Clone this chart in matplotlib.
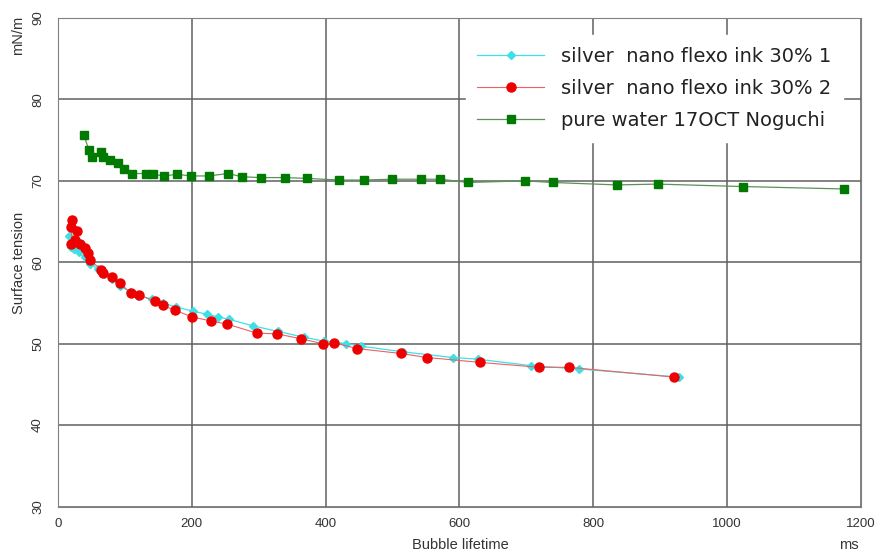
import matplotlib
matplotlib.use('Agg')
import matplotlib.pyplot as plt

# silver nano flexo ink 30% 1 (cyan)
ink1_t = [17, 19, 24, 31, 40, 48, 60, 69, 81, 93, 107, 120, 140, 157, 176, 202, 223, 239, 255,
          291, 329, 367, 398, 431, 453, 515, 590, 627, 707, 778, 928]
ink1_st = [63.2, 61.9, 61.6, 61.2, 60.6, 59.8, 59.2, 58.6, 58.0, 57.1, 56.4, 55.9, 55.5, 55.0, 54.5,
           54.0, 53.6, 53.3, 53.0, 52.2, 51.5, 50.8, 50.3, 50.0, 49.7, 49.0, 48.3, 48.1, 47.3, 46.9, 45.9]

# silver nano flexo ink 30% 2 (red)
ink2_t = [20, 21, 19, 29, 26, 33, 40, 45, 48, 64, 68, 80, 93, 109, 121, 145, 157, 175, 200, 228,
          253, 297, 328, 363, 396, 413, 447, 512, 552, 631, 719, 764, 920]
ink2_st = [62.2, 65.2, 64.3, 63.9, 62.7, 62.3, 61.7, 61.1, 60.3, 59.1, 58.7, 58.2, 57.4, 56.2, 56.0,
           55.2, 54.7, 54.1, 53.3, 52.8, 52.4, 51.3, 51.2, 50.6, 50.0, 50.1, 49.4, 48.8, 48.3, 47.7,
           47.1, 47.1, 45.9]

# pure water 17OCT Noguchi (green)
water_t = [39, 46, 51, 64, 67, 78, 89, 99, 111, 131, 142, 158, 178, 199, 225, 254, 275, 303, 339,
           372, 420, 458, 499, 543, 571, 613, 698, 739, 835, 896, 1024, 1175]
water_st = [75.6, 73.8, 72.9, 73.5, 72.9, 72.5, 72.2, 71.4, 70.9, 70.9, 70.8, 70.6, 70.8, 70.6, 70.6,
            70.9, 70.5, 70.4, 70.4, 70.3, 70.1, 70.1, 70.2, 70.2, 70.2, 69.8, 70.0, 69.8, 69.5, 69.6,
            69.3, 69.0]

fig = plt.figure(figsize=(8.81, 5.54), dpi=100)
ax = fig.add_axes([0.0658, 0.0857, 0.9115, 0.8818])

ax.plot(ink1_t, ink1_st, color='#3ee0e8', lw=0.9, marker='D', ms=4, mec='#3ee0e8',
        label='silver  nano flexo ink 30% 1', zorder=3)
ax.plot(ink2_t, ink2_st, color='#f06060', lw=0.8, marker='o', ms=6.5, mfc='#ee0000', mec='#ee0000',
        label='silver  nano flexo ink 30% 2', zorder=4)
ax.plot(water_t, water_st, color='#5a925a', lw=0.9, marker='s', ms=5.5, mfc='#007a00', mec='#007a00',
        label='pure water 17OCT Noguchi', zorder=3)

ax.set_xlim(0, 1200)
ax.set_ylim(30, 90)
ax.set_xticks(range(0, 1201, 200))
ax.set_yticks(range(30, 91, 10))
ax.grid(True, color='#606060', lw=1.1)
for s in ax.spines.values():
    s.set_color('#808080')
ax.tick_params(length=0, labelsize=9.5, colors='#333333')
ax.tick_params(axis='x', pad=8.5)
ax.tick_params(axis='y', pad=10)
for lbl in ax.get_xticklabels() + ax.get_yticklabels():
    lbl.set_family(['Liberation Sans', 'DejaVu Sans'])
for lbl in ax.get_yticklabels():
    lbl.set_rotation(90)
    lbl.set_va('center')

lab = dict(fontsize=10.5, color='#333333', family=['Liberation Sans', 'DejaVu Sans'])
fig.text(0.522, 0.016, 'Bubble lifetime', ha='center', va='center', **lab)
fig.text(0.963, 0.016, 'ms', ha='center', va='center', **lab)
fig.text(0.021, 0.525, 'Surface tension', rotation=90, ha='center', va='center', **lab)
fig.text(0.021, 0.937, 'mN/m', rotation=90, ha='center', va='center', **lab)

leg = ax.legend(loc='upper right', bbox_to_anchor=(0.9776, 0.965), frameon=True,
                fancybox=False, edgecolor='white', framealpha=1, handlelength=3.4,
                handletextpad=0.9, borderpad=0.6, borderaxespad=0, labelspacing=0.68,
                prop={'family': 'DejaVu Sans', 'size': 14})
for t in leg.get_texts():
    t.set_color('#222222')
leg.set_zorder(10)

fig.savefig('out.png', dpi=100)
